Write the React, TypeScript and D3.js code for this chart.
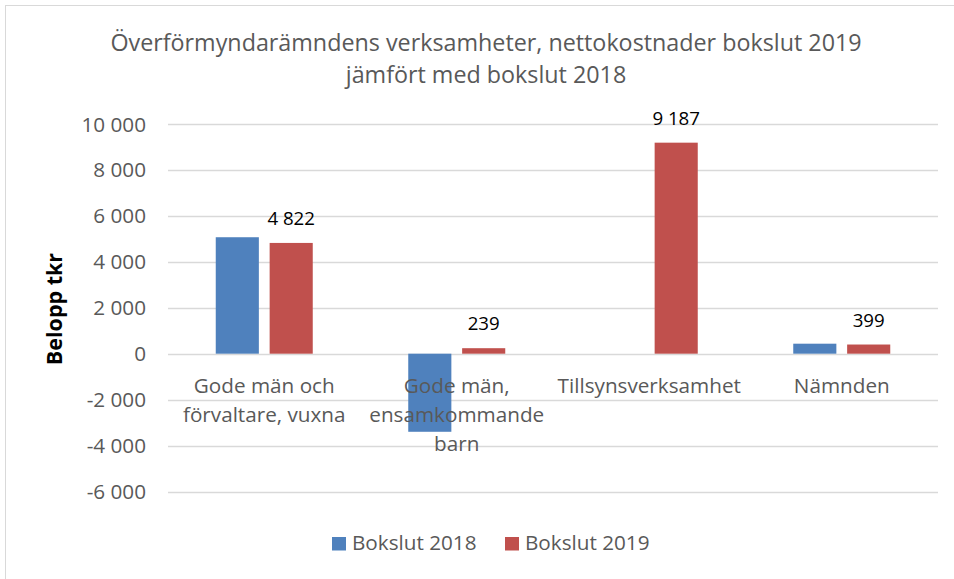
import React from "react";
import * as d3 from "d3";

const categories = [
  ["Gode män och", "förvaltare, vuxna"],
  ["Gode män,", "ensamkommande", "barn"],
  ["Tillsynsverksamhet"],
  ["Nämnden"],
];
const categoryKeys = ["Gode män och förvaltare, vuxna", "Gode män, ensamkommande barn", "Tillsynsverksamhet", "Nämnden"];
const seriesNames = ["Bokslut 2018", "Bokslut 2019"];
const values2018: (number | null)[] = [5070, -3400, null, 435];
const values2019: (number | null)[] = [4822, 239, 9187, 399];
const showLabels = [false, true];
const yTicks = [-6000, -4000, -2000, 0, 2000, 4000, 6000, 8000, 10000];
const colors = ["#4f81bd", "#c0504d"];
const titleLines = ["Överförmyndarämndens verksamheter, nettokostnader bokslut 2019", "jämfört med bokslut 2018"];
const yAxisTitle = "Belopp tkr";

const FONT = "'Open Sans', 'Noto Sans', sans-serif";
const fmt = (v: number) => {
  const s = Math.abs(v).toString().replace(/\B(?=(\d{3})+(?!\d))/g, " ");
  return (v < 0 ? "-" : "") + s;
};

export default function App() {
  const W = 954, H = 579;
  const x = d3.scaleBand<string>().domain(categoryKeys).range([168, 938]).padding(0);
  const xs = d3.scaleBand<string>().domain(seriesNames).range([-48.5, 48.5]).paddingInner(0.2).paddingOuter(0);
  const y = d3.scaleLinear().domain([-6000, 10000]).range([491.5, 124]);
  const series = [values2018, values2019];

  return (
    <svg width={W} height={H} style={{ position: "absolute", left: 0, top: 0, background: "#fff" }}>
      <rect x={5.5} y={5.5} width={980} height={620} fill="#fff" stroke="#d9d9d9" strokeWidth={1} />
      {titleLines.map((t, i) => (
        <text key={i} x={486} y={51 + i * 32} textAnchor="middle" fontFamily={FONT} fontSize={23.3} fill="#595959">
          {t}
        </text>
      ))}
      {yTicks.map((t) => (
        <g key={t}>
          <line x1={168} x2={938} y1={Math.round(y(t)) + 0.5} y2={Math.round(y(t)) + 0.5} stroke="#d9d9d9" strokeWidth={1.5} />
          <text x={146} y={y(t) + 7.5} textAnchor="end" fontFamily={FONT} fontSize={20.7} fill="#595959">
            {fmt(t)}
          </text>
        </g>
      ))}
      <text transform={`translate(61.5,309) rotate(-90)`} textAnchor="middle" fontFamily={FONT} fontWeight="bold" fontSize={21.5} fill="#000">
        {yAxisTitle}
      </text>
      {series.map((vals, si) =>
        vals.map((v, ci) => {
          if (v === null) return null;
          const cx = (x(categoryKeys[ci]) as number) + x.bandwidth() / 2;
          const bx = cx + (xs(seriesNames[si]) as number);
          const y0 = y(0), y1 = y(v);
          return (
            <rect key={`${si}-${ci}`} x={bx} y={Math.min(y0, y1)} width={xs.bandwidth()} height={Math.abs(y1 - y0)} fill={colors[si]} />
          );
        })
      )}
      {categories.map((lines, ci) => {
        const cx = (x(categoryKeys[ci]) as number) + x.bandwidth() / 2;
        return (
          <text key={ci} textAnchor="middle" fontFamily={FONT} fontSize={20.7} fill="#595959">
            {lines.map((l, li) => (
              <tspan key={li} x={cx} y={392.5 + li * 29}>
                {l}
              </tspan>
            ))}
          </text>
        );
      })}
      {series.map((vals, si) =>
        showLabels[si]
          ? vals.map((v, ci) => {
              if (v === null) return null;
              const cx = (x(categoryKeys[ci]) as number) + x.bandwidth() / 2 + (xs(seriesNames[si]) as number) + xs.bandwidth() / 2;
              return (
                <text key={`l${si}-${ci}`} x={cx} y={Math.min(y(v), y(0)) - 18} textAnchor="middle" fontFamily={FONT} fontSize={18.7} fill="#000">
                  {fmt(v)}
                </text>
              );
            })
          : null
      )}
      {seriesNames.map((s, i) => {
        const lx = [332, 505][i];
        return (
          <g key={s}>
            <rect x={lx} y={537} width={14} height={13.5} fill={colors[i]} />
            <text x={lx + 20} y={549.5} fontFamily={FONT} fontSize={20.7} fill="#595959">
              {s}
            </text>
          </g>
        );
      })}
    </svg>
  );
}
